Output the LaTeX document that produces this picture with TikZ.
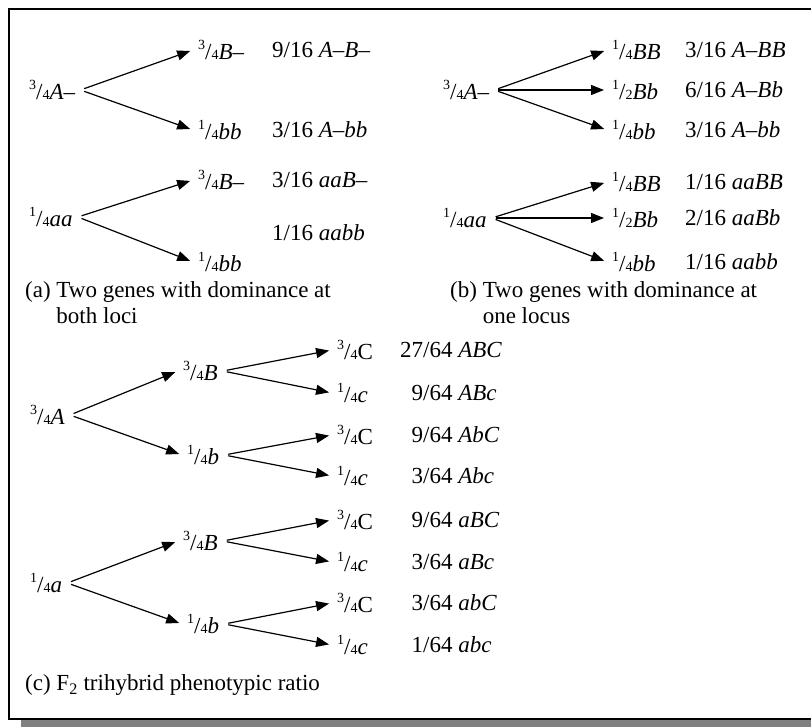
\documentclass[tikz,border=0pt]{standalone}
\usepackage{fontspec}
\setmainfont{Liberation Serif}
\usetikzlibrary{positioning,arrows.meta}

% small stacked fraction as in 3/4
\newcommand{\frc}[2]{\raisebox{0.40em}{\fontsize{14}{14}\selectfont #1}/{\fontsize{14}{14}\selectfont #2}}
\newcommand{\rnum}[1]{\makebox[1em][r]{#1}}

\begin{document}
\begin{tikzpicture}[
  x=1pt, y=-1pt,
  font=\fontsize{23}{26}\selectfont,
  lbl/.style={anchor=west, inner xsep=5pt, inner ysep=1pt},
  arr/.style={-{Triangle[length=13pt,width=10pt]}, line width=1.2pt, shorten <=4pt, shorten >=3pt},
  frame/.style={line width=2pt}
]
\useasboundingbox (0,0) rectangle (811,727);
% frame and shadow
\fill[black!50] (21,719) rectangle (811,727);
\draw[frame] (9,719) -- (9,9) -- (812,9);
\draw[frame] (8,719) -- (812,719);

% (a) dominance at both loci
\node[lbl] (a1) at (24,90) {\frc34\textit{A}--};
\node[lbl] (a1B) at (193,50) {\frc34\textit{B}--};
\node[lbl] (a1b) at (193,130) {\frc14\textit{bb}};
\node[lbl] (a2) at (24,217) {\frc14\textit{aa}};
\node[lbl] (a2B) at (193,180) {\frc34\textit{B}--};
\node[lbl] (a2b) at (193,262) {\frc14\textit{bb}};
\node[lbl] (ra1) at (267,50) {9/16 \textit{A}--\textit{B}--};
\node[lbl] (ra2) at (267,130) {3/16 \textit{A}--\textit{bb}};
\node[lbl] (ra3) at (267,180) {3/16 \textit{aaB}--};
\node[lbl] (ra4) at (267,233) {1/16 \textit{aabb}};
\node[anchor=west, inner sep=0pt] (capa) at (25,305) {\begin{tabular}{@{}l@{ }l@{}}(a) & Two genes with dominance at\\ & both loci\end{tabular}};

% (b) dominance at one locus
\node[lbl] (b1) at (438,90) {\frc34\textit{A}--};
\node[lbl] (b1BB) at (607,50) {\frc14\textit{BB}};
\node[lbl] (b1Bb) at (607,90) {\frc12\textit{Bb}};
\node[lbl] (b1bb) at (607,130) {\frc14\textit{bb}};
\node[lbl] (b2) at (438,218) {\frc14\textit{aa}};
\node[lbl] (b2BB) at (607,182) {\frc14\textit{BB}};
\node[lbl] (b2Bb) at (607,218) {\frc12\textit{Bb}};
\node[lbl] (b2bb) at (607,262) {\frc14\textit{bb}};
\node[lbl] (rb1) at (680,50) {3/16 \textit{A}--\textit{BB}};
\node[lbl] (rb2) at (680,90) {6/16 \textit{A}--\textit{Bb}};
\node[lbl] (rb3) at (680,130) {3/16 \textit{A}--\textit{bb}};
\node[lbl] (rb4) at (680,182) {1/16 \textit{aaBB}};
\node[lbl] (rb5) at (680,218) {2/16 \textit{aaBb}};
\node[lbl] (rb6) at (680,262) {1/16 \textit{aabb}};
\node[anchor=west, inner sep=0pt] (capb) at (450,305) {\begin{tabular}{@{}l@{ }l@{}}(b) & Two genes with dominance at\\ & one locus\end{tabular}};

% (c) trihybrid
\node[lbl] (cA) at (25,415) {\frc34\textit{A}};
\node[lbl] (ca) at (25,583) {\frc14\textit{a}};
\node[lbl] (cAB) at (178,371) {\frc34\textit{B}};
\node[lbl] (cAb) at (182,455) {\frc14\textit{b}};
\node[lbl] (caB) at (178,541) {\frc34\textit{B}};
\node[lbl] (cab) at (182,624) {\frc14\textit{b}};
\node[lbl] (c1) at (332,350) {\frc34C};
\node[lbl] (c2) at (332,393) {\frc14\textit{c}};
\node[lbl] (c3) at (332,435) {\frc34C};
\node[lbl] (c4) at (332,476) {\frc14\textit{c}};
\node[lbl] (c5) at (332,520) {\frc34C};
\node[lbl] (c6) at (332,562) {\frc14\textit{c}};
\node[lbl] (c7) at (332,603) {\frc34C};
\node[lbl] (c8) at (332,645) {\frc14\textit{c}};
\node[lbl] (rc1) at (395,350) {\rnum{27}/64 \textit{ABC}};
\node[lbl] (rc2) at (395,393) {\rnum{9}/64 \textit{ABc}};
\node[lbl] (rc3) at (395,435) {\rnum{9}/64 \textit{AbC}};
\node[lbl] (rc4) at (395,476) {\rnum{3}/64 \textit{Abc}};
\node[lbl] (rc5) at (395,520) {\rnum{9}/64 \textit{aBC}};
\node[lbl] (rc6) at (395,562) {\rnum{3}/64 \textit{aBc}};
\node[lbl] (rc7) at (395,603) {\rnum{3}/64 \textit{abC}};
\node[lbl] (rc8) at (395,645) {\rnum{1}/64 \textit{abc}};
\node[anchor=west, inner sep=0pt] (capc) at (25,685) {(c) F\textsubscript{2} trihybrid phenotypic ratio};

% branches
\foreach \p/\c in {a1/a1B,a1/a1b,a2/a2B,a2/a2b,
  b1/b1BB,b1/b1Bb,b1/b1bb,b2/b2BB,b2/b2Bb,b2/b2bb,
  cA/cAB,cA/cAb,ca/caB,ca/cab,
  cAB/c1,cAB/c2,cAb/c3,cAb/c4,caB/c5,caB/c6,cab/c7,cab/c8}
  \draw[arr] (\p.east) -- (\c.west);
\end{tikzpicture}
\end{document}
